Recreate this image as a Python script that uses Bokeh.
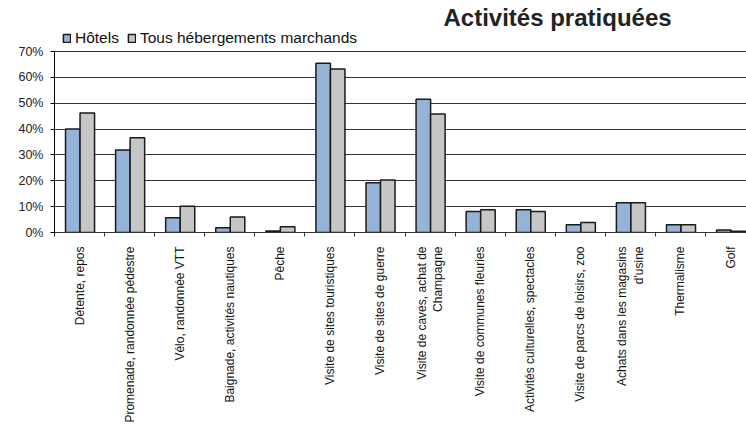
import math
from bokeh.plotting import figure
from bokeh.models import (Range1d, FixedTicker, PrintfTickFormatter, Legend, LegendItem,
                          Title, ColumnDataSource)
from bokeh.embed import file_html
from bokeh.resources import INLINE

categories = [
    "Détente, repos",
    "Promenade, randonnée pédestre",
    "Vélo, randonnée VTT",
    "Baignade, activités nautiques",
    "Pêche",
    "Visite de sites touristiques",
    "Visite de sites de guerre",
    "Visite de caves, achat de\nChampagne",
    "Visite de communes fleuries",
    "Activités culturelles, spectacles",
    "Visite de parcs de loisirs, zoo",
    "Achats dans les magasins\nd'usine",
    "Thermalisme",
    "Golf",
]
hotels = [40.0, 31.9, 5.7, 1.8, 0.6, 65.5, 19.2, 51.5, 8.1, 8.8, 3.0, 11.5, 3.0, 1.0]
tous = [46.2, 36.6, 10.2, 6.0, 2.2, 63.2, 20.3, 45.8, 8.8, 8.1, 3.9, 11.5, 3.0, 0.5]
y_ticks = [0, 10, 20, 30, 40, 50, 60, 70]

n = len(categories)
idx = list(range(n))
src = ColumnDataSource(dict(
    xh=[i - 0.135 for i in idx], xt=[i + 0.155 for i in idx], hotels=hotels, tous=tous))

p = figure(width=746, height=425, output_backend="svg", toolbar_location=None,
           x_range=Range1d(-0.5, 13.318), y_range=Range1d(0, 78.51),
           min_border_left=54, min_border_right=0, min_border_top=29, min_border_bottom=0)
p.outline_line_color = None
p.background_fill_color = "white"

r1 = p.vbar(x="xh", top="hotels", width=0.29, source=src, fill_color="#95B3D7",
            line_color="#1a1a1a", line_width=1.5)
r2 = p.vbar(x="xt", top="tous", width=0.29, source=src, fill_color="#C6C6C6",
            line_color="#1a1a1a", line_width=1.5)

# Y axis
yax = p.yaxis[0]
yax.ticker = FixedTicker(ticks=y_ticks)
yax.bounds = (0, 70)
yax.formatter = PrintfTickFormatter(format="%d%%")
yax.major_label_text_font = "Liberation Sans"
yax.major_label_text_font_size = "12.5px"
yax.major_label_text_color = "#222222"
yax.major_tick_out = 4
yax.major_tick_in = 0
yax.minor_tick_out = 0
yax.axis_line_color = "black"
yax.major_tick_line_color = "black"
yax.major_label_standoff = 7

# X axis: labels at centres, tick marks at category boundaries
xax = p.xaxis[0]
xax.ticker = FixedTicker(ticks=idx, minor_ticks=[i - 0.5 for i in range(n + 1)])
xax.major_label_overrides = {i: c for i, c in zip(idx, categories)}
xax.major_label_orientation = math.pi / 2
xax.major_label_text_font = "Liberation Sans"
xax.major_label_text_font_size = "12px"
xax.major_label_text_color = "#111111"
xax.major_tick_out = 0
xax.major_tick_in = 0
xax.minor_tick_out = 4
xax.minor_tick_in = 0
xax.minor_tick_line_color = "#333333"
xax.axis_line_color = "#333333"
xax.major_label_standoff = 10

p.xgrid.grid_line_color = None
p.ygrid.grid_line_color = "#333333"
p.ygrid.grid_line_width = 1

legend = Legend(items=[LegendItem(label="Hôtels", renderers=[r1]),
                       LegendItem(label="Tous hébergements marchands", renderers=[r2])],
                orientation="horizontal", location=(8, 185),
                label_text_font="Liberation Sans", label_text_font_size="15.5px",
                label_text_color="#111111",
                glyph_width=9, glyph_height=10, label_height=12, label_standoff=4,
                spacing=8, padding=0, margin=0,
                border_line_color=None, background_fill_alpha=0)
p.add_layout(legend, "center")

title = Title(text="Activités pratiquées", align="left", offset=389,
              text_font="Liberation Sans", text_font_size="24px", text_font_style="bold",
              text_color="#222222", standoff=-3)
p.add_layout(title, "above")

open("out.html", "w").write(file_html(p, INLINE))
